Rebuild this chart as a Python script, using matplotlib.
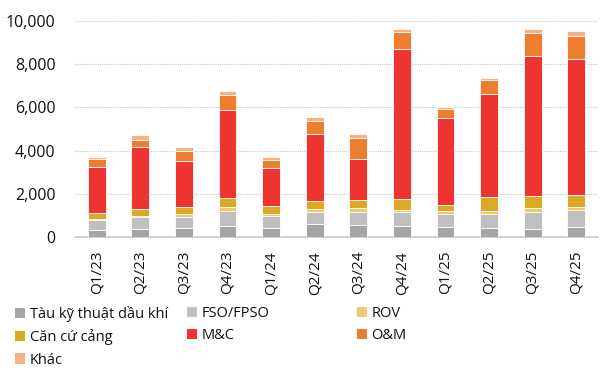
import matplotlib
matplotlib.use("Agg")
import matplotlib.pyplot as plt
from matplotlib.patches import Patch
import numpy as np

plt.rcParams['font.family'] = ['Open Sans', 'DejaVu Sans']

quarters = ["Q1/23", "Q2/23", "Q3/23", "Q4/23", "Q1/24", "Q2/24",
            "Q3/24", "Q4/24", "Q1/25", "Q2/25", "Q3/25", "Q4/25"]

tau_ky_thuat = [340, 385, 400, 490, 415, 600, 540, 510, 440, 400, 370, 480]
fso_fpso     = [460, 555, 510, 695, 540, 580, 620, 630, 640, 670, 775, 760]
rov          = [50, 45, 170, 185, 125, 110, 170, 120, 110, 150, 185, 170]
can_cu_cang  = [260, 325, 310, 430, 340, 380, 370, 480, 310, 610, 570, 540]
mc           = [2110, 2850, 2110, 4080, 1790, 3110, 1900, 6960, 4010, 4780, 6490, 6270]
om           = [390, 340, 460, 695, 370, 570, 1000, 800, 420, 660, 1035, 1100]
khac         = [90, 200, 215, 200, 140, 200, 190, 140, 80, 90, 190, 230]

series_names = ["Tàu kỹ thuật dầu khí", "FSO/FPSO", "ROV", "Căn cứ cảng",
                "M&C", "O&M", "Khác"]
series_vals = [tau_ky_thuat, fso_fpso, rov, can_cu_cang, mc, om, khac]
colors = ["#A5A5A5", "#BFBFBF", "#EDC86E", "#DBA925",
          "#EE3430", "#EE7D31", "#F4B183"]

yticks = [0, 2000, 4000, 6000, 8000, 10000]
ytick_labels = ["0", "2,000", "4,000", "6,000", "8,000", "10,000"]

fig = plt.figure(figsize=(6.05, 3.68), dpi=100)
ax = fig.add_axes([75/605, 1-237/368, 523/605, 216/368])

x = np.arange(len(quarters))
bottom = np.zeros(len(quarters))
for name, vals, c in zip(series_names, series_vals, colors):
    v = np.array(vals, dtype=float)
    ax.bar(x, v, width=0.41, bottom=bottom, color=c, edgecolor="white",
           linewidth=0.6, label=name, zorder=3)
    bottom += v

ax.set_xlim(-0.5, len(quarters) - 0.5)
ax.set_ylim(0, 10000)
ax.set_yticks(yticks)
ax.set_yticklabels(ytick_labels, fontsize=11.5, color="#111111")
ax.set_xticks(x)
ax.set_xticklabels(quarters, rotation=90, fontsize=11, color="#111111")
ax.tick_params(axis="both", length=0)
ax.tick_params(axis="y", pad=14)
ax.tick_params(axis="x", pad=10)

ax.yaxis.grid(True, linestyle=(0, (1, 1)), color="#C8C8C8", linewidth=0.8, zorder=0)
ax.set_axisbelow(True)
for s in ["top", "right", "left"]:
    ax.spines[s].set_visible(False)
ax.spines["bottom"].set_color("#C8C8C8")
ax.spines["bottom"].set_linewidth(1.2)

handles = [Patch(facecolor=c, edgecolor="none") for c in colors]
cols = [[0, 3, 6], [1, 4], [2, 5]]
xs = [15, 187, 357]
for col, xpix in zip(cols, xs):
    leg = fig.legend([handles[i] for i in col], [series_names[i] for i in col],
                     loc="upper left", bbox_to_anchor=(xpix/605, 1-306/368),
                     frameon=False, fontsize=10.5, handlelength=0.7,
                     handleheight=0.7, handletextpad=0.3, labelspacing=0.5,
                     borderpad=0, borderaxespad=0)
    for t in leg.get_texts():
        t.set_color("#111111")

fig.savefig("out.png", dpi=100)
